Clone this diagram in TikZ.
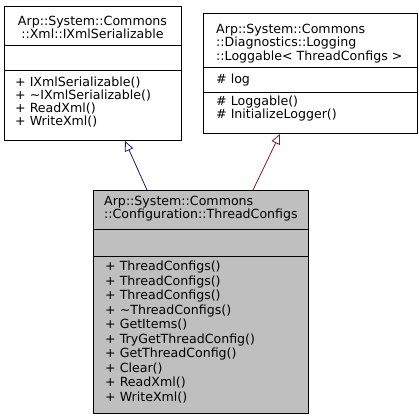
\documentclass[tikz,border=0pt]{standalone}
\usepackage{fontspec}
\setmainfont{DejaVu Sans}
\usetikzlibrary{arrows.meta}
\definecolor{navyedge}{HTML}{191970}
\definecolor{rededge}{HTML}{8B1A1A}
\definecolor{boxgray}{HTML}{BFBFBF}
\begin{document}
\begin{tikzpicture}[x=1pt,y=-1pt,
    classbox/.style={draw=black,line width=1pt,anchor=north west,inner sep=0pt},
    txt/.style={anchor=west,inner sep=0pt,align=left,font=\fontsize{12.6}{13}\selectfont},
    inherit/.style={-{Triangle[open,length=10pt,width=9pt]},line width=0.8pt}]
    \useasboundingbox (0,0) rectangle (419,419);
    % base class: IXmlSerializable
    \node[classbox,minimum width=177pt,minimum height=134pt](ixml) at (4,6){};
    \draw[line width=1pt](ixml.north west)++(0,40)--++(177,0);
    \draw[line width=1pt](ixml.north west)++(0,65)--++(177,0);
    \node[txt,anchor=center,align=center](ixmlname) at (92.5,27){Arp::System::Commons\\::Xml::IXmlSerializable};
    \node[txt](ixmlops) at (15,102.5){+ IXmlSerializable()\\+ \textasciitilde IXmlSerializable()\\+ ReadXml()\\+ WriteXml()};
    % base class: Loggable
    \node[classbox,minimum width=214pt,minimum height=120pt](logg) at (203,13){};
    \draw[line width=1pt](logg.north west)++(0,55)--++(214,0);
    \draw[line width=1pt](logg.north west)++(0,80)--++(214,0);
    \node[txt,font=\fontsize{12.6}{13.5}\selectfont](loggname) at (216,43.5){Arp::System::Commons\\::Diagnostics::Logging\\::Loggable< ThreadConfigs >};
    \node[txt](loggattr) at (216,80){\# log};
    \node[txt](loggops) at (216,108.5){\# Loggable()\\\# InitializeLogger()};
    % derived class: ThreadConfigs
    \node[classbox,fill=boxgray,minimum width=215pt,minimum height=223pt](cfg) at (93,190){};
    \draw[line width=1pt](cfg.north west)++(0,39)--++(215,0);
    \draw[line width=1pt](cfg.north west)++(0,66)--++(215,0);
    \node[txt](cfgname) at (104,209){Arp::System::Commons\\::Configuration::ThreadConfigs};
    \node[txt,font=\fontsize{12.6}{14.5}\selectfont](cfgops) at (105,332){+ ThreadConfigs()\\+ ThreadConfigs()\\+ ThreadConfigs()\\+ \textasciitilde ThreadConfigs()\\+ GetItems()\\+ TryGetThreadConfig()\\+ GetThreadConfig()\\+ Clear()\\+ ReadXml()\\+ WriteXml()};
    % inheritance
    \draw[inherit,navyedge]([xshift=54pt]cfg.north west)--([xshift=121pt]ixml.south west);
    \draw[inherit,rededge]([xshift=160pt]cfg.north west)--([xshift=77pt]logg.south west);
\end{tikzpicture}
\end{document}
